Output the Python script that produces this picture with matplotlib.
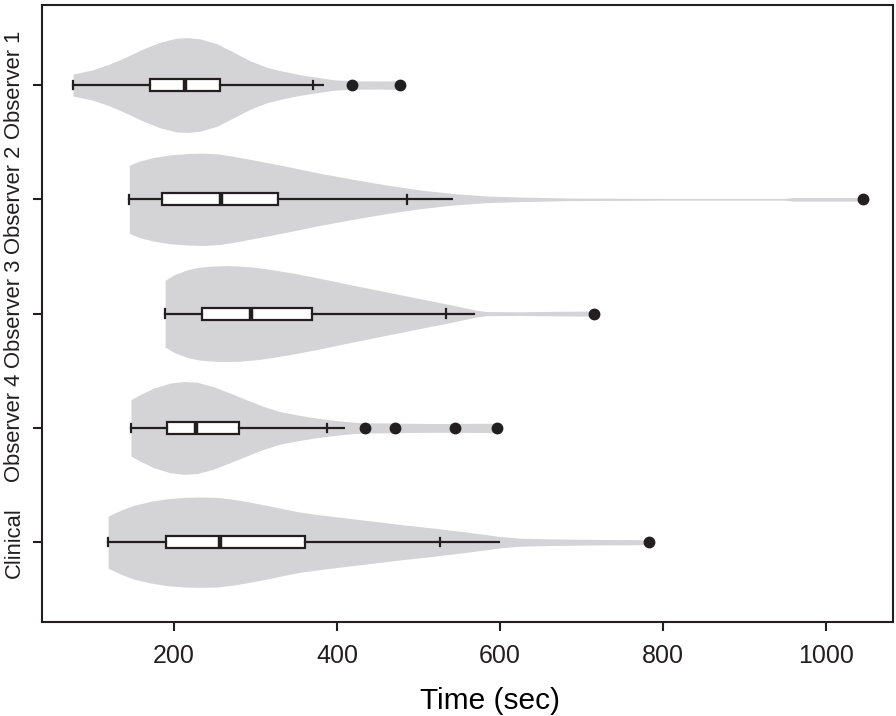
import numpy as np
import matplotlib
matplotlib.use("Agg")
import matplotlib.pyplot as plt

# ---------------- data ----------------
groups = ["Clinical", "Observer 4", "Observer 3", "Observer 2", "Observer 1"]

whislo = [119, 147, 189, 145, 76]
q1 = [190, 191, 234, 185, 171]
med = [257, 227, 294, 258, 213]
q3 = [361, 280, 369, 328, 257]
cap_hi = [527, 388, 534, 486, 370]
whisker_end = [600, 410, 569, 543, 384]
fliers = [[783], [435, 471, 545, 596], [715], [1046], [418, 477]]

# violin outlines: time values and half-widths (category units)
viol_clinical_x = [119, 134, 150, 171, 191, 212, 232, 253, 273, 293, 314, 334, 355,
                   375, 396, 437, 478, 519, 560, 600, 625, 662, 720, 783]
viol_clinical_w = [0.228, 0.278, 0.322, 0.357, 0.380, 0.392, 0.395, 0.392, 0.375, 0.351,
                   0.322, 0.292, 0.263, 0.243, 0.225, 0.190, 0.155, 0.123, 0.088, 0.050,
                   0.035, 0.029, 0.024, 0.022]
viol_obs4_x = [147, 158, 175, 195, 212, 228, 248, 269, 289, 310, 330, 351, 371, 392,
               412, 429, 482, 523, 596]
viol_obs4_w = [0.246, 0.290, 0.348, 0.392, 0.406, 0.400, 0.362, 0.304, 0.246, 0.187,
               0.143, 0.114, 0.090, 0.070, 0.055, 0.046, 0.041, 0.038, 0.041]
viol_obs3_x = [189, 200, 217, 230, 247, 265, 281, 300, 320, 346, 380, 411, 443, 475,
               508, 540, 570, 583, 626, 669, 715]
viol_obs3_w = [0.292, 0.340, 0.385, 0.405, 0.416, 0.420, 0.416, 0.405, 0.385, 0.354,
               0.308, 0.261, 0.215, 0.169, 0.122, 0.077, 0.031, 0.018, 0.016, 0.020, 0.022]
viol_obs2_x = [145, 158, 175, 195, 216, 236, 257, 277, 297, 318, 339, 359, 379, 420,
               461, 502, 543, 584, 625, 687, 800, 950, 960, 1046]
viol_obs2_w = [0.298, 0.336, 0.366, 0.389, 0.400, 0.404, 0.395, 0.371, 0.345, 0.316,
               0.287, 0.257, 0.228, 0.175, 0.125, 0.082, 0.050, 0.029, 0.020, 0.011,
               0.008, 0.008, 0.016, 0.016]
viol_obs1_x = [76, 101, 121, 142, 162, 183, 203, 216, 232, 253, 273, 293, 314, 334,
               355, 375, 396, 416, 449, 477]
viol_obs1_w = [0.096, 0.134, 0.184, 0.248, 0.316, 0.375, 0.410, 0.415, 0.404, 0.360,
               0.287, 0.213, 0.155, 0.120, 0.090, 0.068, 0.046, 0.038, 0.035, 0.038]

violins_x = [viol_clinical_x, viol_obs4_x, viol_obs3_x, viol_obs2_x, viol_obs1_x]
violins_w = [viol_clinical_w, viol_obs4_w, viol_obs3_w, viol_obs2_w, viol_obs1_w]

x_ticks = [200, 400, 600, 800, 1000]
x_label = "Time (sec)"

# ---------------- style ----------------
plt.rcParams["font.family"] = ["Liberation Sans", "DejaVu Sans"]

fig = plt.figure(figsize=(8.96, 7.16), dpi=100)
ax = fig.add_axes([0.047, 0.131, 0.950, 0.862])

positions = np.arange(1, len(groups) + 1)
violin_color = "#d4d4d6"
ink = "#231f20"

for pos, vx, vw in zip(positions, violins_x, violins_w):
    vx = np.asarray(vx, float)
    vw = np.asarray(vw, float)
    ax.fill_between(vx, pos - vw, pos + vw, color=violin_color, lw=0, zorder=1)

stats = []
for i in range(len(groups)):
    stats.append(dict(whislo=whislo[i], q1=q1[i], med=med[i], q3=q3[i],
                      whishi=cap_hi[i], fliers=[]))

ax.bxp(stats, positions=positions, vert=False, widths=0.105,
       showfliers=False, patch_artist=True, capwidths=0.075,
       boxprops=dict(facecolor="white", edgecolor=ink, linewidth=1.6),
       whiskerprops=dict(color=ink, linewidth=1.6),
       capprops=dict(color=ink, linewidth=1.6),
       medianprops=dict(color=ink, linewidth=3.2, solid_capstyle="butt"),
       zorder=3)

for pos, c, e in zip(positions, cap_hi, whisker_end):
    ax.plot([c, e], [pos, pos], color=ink, lw=1.6, zorder=3, solid_capstyle="butt")

for pos, fl in zip(positions, fliers):
    ax.plot(fl, [pos] * len(fl), "o", color=ink, markersize=7.5, zorder=4)

ax.set_xlim(38, 1083)
ax.set_ylim(0.3, 5.7)
ax.set_xticks(x_ticks)
ax.set_xticklabels([str(t) for t in x_ticks], fontsize=18)
ax.set_yticks(positions)
ax.set_yticklabels(groups, rotation=90, va="center", fontsize=15.8)
ax.set_xlabel(x_label, fontsize=21.5)
ax.xaxis.set_label_coords(0.526, -0.105)

for s in ax.spines.values():
    s.set_linewidth(1.5)
    s.set_color(ink)
ax.tick_params(axis="both", colors=ink, width=1.5, length=6.5)
ax.tick_params(axis="x", pad=9.5)
ax.tick_params(axis="y", pad=6)

fig.savefig("out.png", dpi=100)
